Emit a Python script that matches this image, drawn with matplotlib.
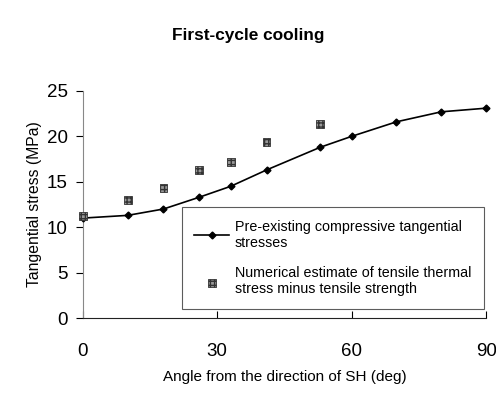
import matplotlib
matplotlib.use("Agg")
import matplotlib.pyplot as plt

plt.rcParams['font.family'] = ['Liberation Sans', 'DejaVu Sans']

# pre-existing compressive tangential stress (line)
angle_line = [0, 10, 18, 26, 33, 41, 53, 60, 70, 80, 90]
stress_line = [11.0, 11.3, 12.0, 13.3, 14.5, 16.3, 18.8, 20.0, 21.6, 22.7, 23.1]

# numerical estimate (squares)
angle_num = [0, 10, 18, 26, 33, 41, 53]
stress_num = [11.2, 13.0, 14.3, 16.3, 17.2, 19.4, 21.4]

x_ticks = [0, 30, 60, 90]
y_ticks = [0, 5, 10, 15, 20, 25]

fig = plt.figure(figsize=(4.96, 4.19), dpi=100)
ax = fig.add_axes([0.167, 0.241, 0.813, 0.542])

ax.plot(angle_line, stress_line, color='black', linewidth=1.2, marker='D',
        markersize=3.5, clip_on=False, zorder=3,
        label='Pre-existing compressive tangential\nstresses')
ax.scatter(angle_num, stress_num, marker='s', s=32, facecolor='#999999',
           edgecolor='#333333', hatch='++++', linewidths=0.6, clip_on=False,
           zorder=4, label='Numerical estimate of tensile thermal\nstress minus tensile strength')

ax.set_xlim(0, 90)
ax.set_ylim(0, 25)
ax.set_xticks(x_ticks)
ax.set_yticks(y_ticks)
ax.tick_params(axis='x', direction='in', length=5, pad=18, labelsize=13.5)
ax.tick_params(axis='y', direction='out', length=5, pad=6, labelsize=13.5)

ax.spines['top'].set_visible(False)
ax.spines['right'].set_visible(False)
ax.spines['left'].set_color('#888888')
ax.spines['bottom'].set_color('#222222')

ax.set_xlabel('Angle from the direction of SH (deg)', fontsize=11, labelpad=7)
ax.set_ylabel('Tangential stress (MPa)', fontsize=11.3, labelpad=3)

leg = ax.legend(loc='lower right', bbox_to_anchor=(1.012, 0.009), fontsize=10.3,
                frameon=True, fancybox=False, edgecolor='#333333',
                handlelength=2.4, labelspacing=1.1, borderpad=0.9,
                handletextpad=0.4)
leg.get_frame().set_linewidth(0.8)

fig.text(0.5, 0.916, 'First-cycle cooling', ha='center', va='center',
         fontsize=12.4, fontweight='bold')

fig.savefig('out.png', dpi=100)
